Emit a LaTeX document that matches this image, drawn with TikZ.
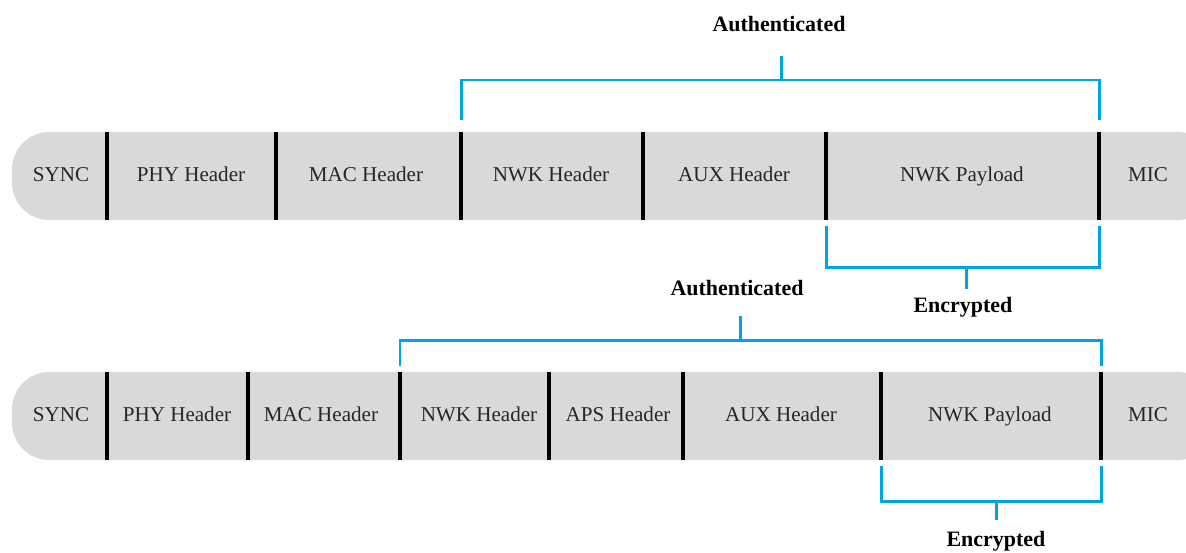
\documentclass[tikz,border=0pt]{standalone}
\usepackage{fontspec}
\setmainfont{Liberation Serif}
\usepackage{xcolor}
\usepackage{tikz}

\definecolor{brkblue}{RGB}{0,163,228}
\definecolor{framegray}{RGB}{217,217,217}

\tikzset{
  field/.style={font=\fontsize{12}{14}\selectfont, text=black!85, anchor=base},
  lbl/.style={font=\fontsize{12.5}{15}\selectfont\bfseries, anchor=base},
  sep/.style={line width=2.3pt, black},
  brk/.style={line width=1.7pt, brkblue},
}

\begin{document}
\begin{tikzpicture}[x=0.02cm,y=-0.02cm]
\useasboundingbox (0,0) rectangle (1186,552);

% first frame
\fill[framegray, rounded corners=0.75cm] (12,132) rectangle (1215,220);
\foreach \x in {107,276,461,643,826,1099}
  \draw[sep] (\x,132) -- (\x,220);
\foreach \x/\t/\n in {61/SYNC/sync, 191/PHY Header/phy, 366/MAC Header/mac,
    551/NWK Header/nwk, 734/AUX Header/aux, 962/NWK Payload/pay, 1148/MIC/mic}
  \node[field] (\n1) at (\x,181) {\t};

% second frame
\fill[framegray, rounded corners=0.75cm] (12,372) rectangle (1215,460);
\foreach \x in {107,248,400,549,683,881,1101}
  \draw[sep] (\x,372) -- (\x,460);
\foreach \x/\t/\n in {61/SYNC/sync, 177/PHY Header/phy, 321/MAC Header/mac,
    479/NWK Header/nwk, 618/APS Header/aps, 781/AUX Header/aux,
    990/NWK Payload/pay, 1148/MIC/mic}
  \node[field] (\n2) at (\x,421) {\t};

% brackets of the first frame
\node[lbl] (auth1) at (779,31) {Authenticated};
\coordinate (a1l) at (461,120);
\coordinate (a1r) at (1099,120);
\coordinate (a1m) at (781,80);
\coordinate (a1t) at (781,56);
\draw[brk] (a1l) |- (a1m) -| (a1r);
\draw[brk] (a1m) -- (a1t);

\node[lbl] (enc1) at (963,312) {Encrypted};
\coordinate (e1l) at (826,226);
\coordinate (e1r) at (1099,226);
\coordinate (e1m) at (966,267);
\coordinate (e1t) at (966,289);
\draw[brk] (e1l) |- (e1m) -| (e1r);
\draw[brk] (e1m) -- (e1t);

% brackets of the second frame
\node[lbl] (auth2) at (737,295) {Authenticated};
\coordinate (a2l) at (400,366);
\coordinate (a2r) at (1101,366);
\coordinate (a2m) at (740,340);
\coordinate (a2t) at (740,316);
\draw[brk] (a2l) |- (a2m) -| (a2r);
\draw[brk] (a2m) -- (a2t);

\node[lbl] (enc2) at (996,546) {Encrypted};
\coordinate (e2l) at (881,466);
\coordinate (e2r) at (1101,466);
\coordinate (e2m) at (996,501);
\coordinate (e2t) at (996,520);
\draw[brk] (e2l) |- (e2m) -| (e2r);
\draw[brk] (e2m) -- (e2t);
\end{tikzpicture}
\end{document}
